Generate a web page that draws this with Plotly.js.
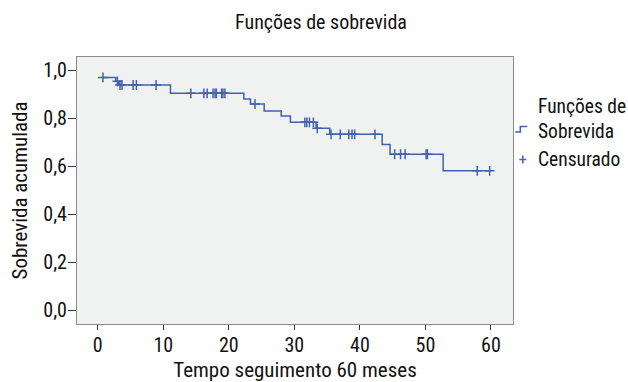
<!DOCTYPE html>
<html>
<head>
<meta charset="utf-8">
<script src="https://cdn.plot.ly/plotly-3.0.1.min.js"></script>
<style>html,body{margin:0;padding:0;background:#fff;}#chart{width:628px;height:382px;}</style>
</head>
<body>
<div id="chart"></div>
<script>
// Kaplan-Meier step curve: times where the survival changes, and the value after each step
const stepTimes = [0.6, 2.75, 3.2, 11.1, 22.3, 23.3, 25.4, 28.0, 29.4, 33.3, 35.4, 43.4, 44.6, 52.7, 60.0];
const survival  = [0.969, 0.953, 0.9375, 0.903, 0.879, 0.858, 0.829, 0.808, 0.782, 0.757, 0.732, 0.690, 0.649, 0.580, 0.580];
// censored observation times
const censorTimes = [0.8, 3.0, 3.4, 3.7, 5.4, 5.9, 8.9, 14.2, 16.2, 16.7, 17.6, 17.9, 18.1, 18.9, 19.1, 19.4,
  24.0, 31.6, 31.9, 32.3, 32.9, 33.5, 35.6, 37.0, 38.3, 38.8, 39.2, 42.3, 45.3, 46.2, 46.9, 50.1, 50.3, 57.9, 59.8];
const xTicks = [0, 10, 20, 30, 40, 50, 60];
const yTicks = [0, 0.2, 0.4, 0.6, 0.8, 1.0];
const seriesNames = ["Funções de<br>Sobrevida", "Censurado"];

function survAt(t) {
  let v = survival[0];
  for (let i = 0; i < stepTimes.length; i++) { if (stepTimes[i] <= t) v = survival[i]; }
  return v;
}
const censorSurv = censorTimes.map(survAt);

const FONT = "Liberation Sans Narrow, Arial Narrow, Roboto Condensed, sans-serif";
const BLUE = "#4261AE";

// plot area in pixels
const L = 77, R = 512.7, T = 57, B = 324;
const px = x => (x - L) / (R - L);
const py = y => (B - y) / (B - T);

const traces = [
  { x: stepTimes, y: survival, type: "scatter", mode: "lines",
    line: { shape: "hv", color: BLUE, width: 1.5 }, showlegend: false, hoverinfo: "skip" },
  { x: censorTimes, y: censorSurv, type: "scatter", mode: "markers",
    marker: { symbol: "cross-thin", size: 7, line: { color: BLUE, width: 1.5 } },
    showlegend: false, hoverinfo: "skip" }
];

const layout = {
  width: 628, height: 382,
  margin: { l: L, r: 628 - R, t: T, b: 382 - B, pad: 0 },
  paper_bgcolor: "#ffffff",
  plot_bgcolor: "#F0F1F1",
  separators: ",.",
  font: { family: FONT, size: 20, color: "#111" },
  title: { text: "Funções de sobrevida", font: { family: FONT, size: 20, color: "#111" },
    xref: "container", x: 321 / 628, xanchor: "center", y: 1 - 22 / 382, yanchor: "middle" },
  xaxis: {
    range: [(L - 97.7) / 6.55, (R - 97.7) / 6.55],
    tickvals: xTicks, ticks: "outside", ticklen: 5, tickcolor: "#333", tickwidth: 1,
    ticklabelstandoff: -2,
    showgrid: false, zeroline: false, showline: true, linecolor: "#8C8C8C", linewidth: 1, mirror: true,
    tickfont: { family: FONT, size: 20, color: "#111" },
    title: { text: "Tempo seguimento 60 meses", font: { family: FONT, size: 21, color: "#111" }, standoff: 9 }
  },
  yaxis: {
    range: [-(B - 310) / 240, 1 + (70 - T) / 240],
    tickvals: yTicks, tickformat: ".1f", ticks: "outside", ticklen: 8, tickcolor: "#333", tickwidth: 1,
    ticklabelstandoff: -3,
    showgrid: false, zeroline: false, showline: true, linecolor: "#8C8C8C", linewidth: 1, mirror: true,
    tickfont: { family: FONT, size: 20, color: "#111" },
    title: { text: "Sobrevida acumulada", font: { family: FONT, size: 21, color: "#111" }, standoff: 9 }
  },
  shapes: [
    { type: "path", xref: "paper", yref: "paper",
      path: `M ${px(515)} ${py(132)} L ${px(520)} ${py(132)} L ${px(520)} ${py(126.5)} L ${px(527)} ${py(126.5)}`,
      line: { color: BLUE, width: 1.5 } },
    { type: "line", xref: "paper", yref: "paper", x0: px(519), x1: px(526), y0: py(159.5), y1: py(159.5),
      line: { color: BLUE, width: 1.5 } },
    { type: "line", xref: "paper", yref: "paper", x0: px(522.5), x1: px(522.5), y0: py(155.5), y1: py(163.5),
      line: { color: BLUE, width: 1.5 } }
  ],
  annotations: [
    { text: seriesNames[0], xref: "paper", yref: "paper", x: px(536), y: py(119), xanchor: "left", yanchor: "middle",
      align: "left", showarrow: false, font: { family: FONT, size: 19.5, color: "#111" } },
    { text: seriesNames[1], xref: "paper", yref: "paper", x: px(536), y: py(159), xanchor: "left", yanchor: "middle",
      align: "left", showarrow: false, font: { family: FONT, size: 19.5, color: "#111" } }
  ],
  showlegend: false
};

Plotly.newPlot("chart", traces, layout, { displayModeBar: false, staticPlot: true });
</script>
</body>
</html>
